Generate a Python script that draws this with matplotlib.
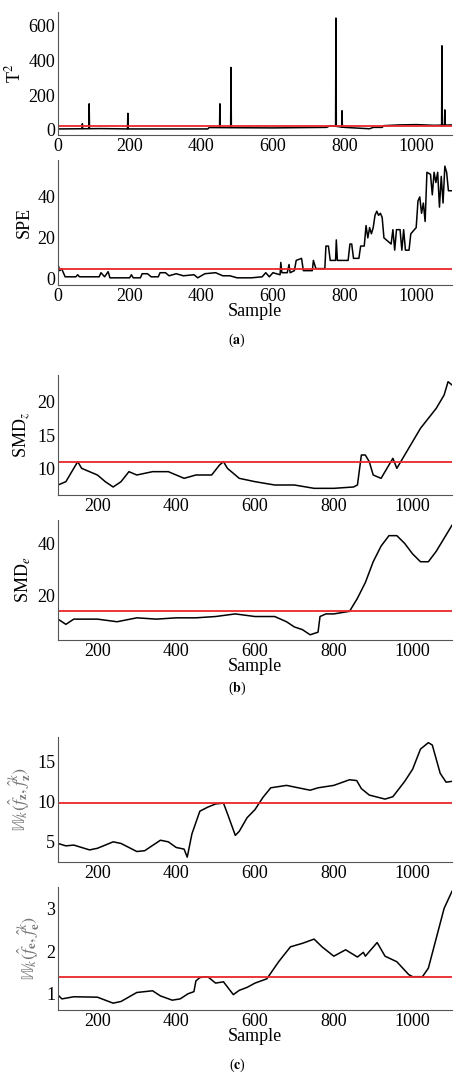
import matplotlib
matplotlib.use("Agg")
import matplotlib.pyplot as plt
import numpy as np

plt.rcParams['font.family'] = ['Liberation Serif', 'DejaVu Serif']
plt.rcParams['mathtext.fontset'] = 'stix'

t2_base_x = [0, 60, 120, 200, 300, 418, 422, 500, 600, 700, 750, 760, 800, 870, 880, 905, 910, 950, 1000, 1050, 1100]
t2_base_y = [5, 6, 7, 5, 5, 5, 13, 12, 11, 13, 14, 24, 14, 6, 14, 14, 24, 28, 30, 26, 28]
t2_spike_x = [68, 87, 195, 452, 483, 776, 793, 1072, 1080]
t2_spike_y = [35, 150, 95, 150, 360, 645, 110, 485, 115]
t2_limit = 20

spe_x = [0, 5, 10, 20, 50, 55, 60, 115, 120, 130, 140, 145, 200, 205, 210, 230, 235, 250, 260, 280, 285, 300, 310, 330, 350, 380, 390, 410, 440, 460, 480, 500, 540, 570, 580, 590, 600, 620, 622, 625, 640, 645, 648, 660, 665, 680, 685, 710, 713, 720, 735, 745, 748, 755, 760, 775, 777, 780, 810, 815, 820, 825, 840, 845, 855, 860, 865, 870, 875, 880, 885, 890, 895, 900, 905, 910, 930, 935, 940, 945, 955, 960, 965, 970, 980, 985, 1000, 1005, 1010, 1015, 1020, 1025, 1030, 1040, 1045, 1050, 1055, 1060, 1065, 1070, 1075, 1080, 1085, 1090, 1100]
spe_y = [7, 4, 5, 1, 1, 2, 1, 1, 3, 1, 3.5, 0.5, 0.5, 2, 0.5, 0.5, 2.5, 2.5, 1, 1, 3, 3, 1.5, 2.5, 1.5, 2, 0.5, 2.5, 3, 1.5, 1.5, 0.5, 0.5, 1, 3, 1, 3, 2, 8, 3, 3, 7, 3, 4, 9, 10, 4, 4, 9, 5, 5, 5, 16, 16, 9, 9, 19, 9, 9, 17, 17, 10, 10, 16, 16, 26, 20, 25, 22, 25, 31, 33, 31, 32, 30, 20, 17, 24, 14, 24, 24, 14, 24, 14, 14, 22, 25, 38, 40, 32, 37, 28, 52, 51, 41, 52, 47, 52, 35, 50, 37, 55, 52, 43, 43]
spe_limit = 4.7

smdz_x = [100, 120, 140, 150, 160, 180, 200, 220, 240, 260, 280, 300, 340, 380, 420, 450, 490, 510, 520, 530, 560, 600, 650, 700, 750, 800, 850, 860, 870, 880, 890, 900, 920, 940, 950, 960, 970, 980, 1000, 1020, 1040, 1060, 1080, 1090, 1100]
smdz_y = [7.5, 8, 10, 11, 10, 9.5, 9, 8, 7.2, 8, 9.5, 9, 9.5, 9.5, 8.5, 9, 9, 10.5, 11, 10, 8.5, 8, 7.5, 7.5, 7, 7, 7.2, 7.5, 12, 12, 11, 9, 8.5, 10.5, 11.5, 10, 11, 12, 14, 16, 17.5, 19, 21, 23, 22.5]
smdz_limit = 11

smde_x = [100, 120, 140, 200, 250, 300, 350, 400, 450, 500, 550, 600, 650, 680, 700, 720, 740, 760, 765, 780, 800, 820, 840, 860, 880, 900, 920, 940, 960, 980, 1000, 1020, 1040, 1060, 1080, 1100]
smde_y = [11, 9, 11, 11, 10, 11.5, 11, 11.5, 11.5, 12, 13, 12, 12, 10, 8, 7, 5, 6, 12, 13, 13, 13.5, 14, 19, 25, 33, 39, 43, 43, 40, 36, 33, 33, 37, 42, 47]
smde_limit = 14

wz_x = [100, 120, 140, 180, 200, 240, 260, 300, 320, 360, 380, 400, 420, 428, 440, 460, 480, 500, 520, 530, 550, 560, 580, 600, 620, 640, 680, 740, 760, 800, 840, 858, 870, 890, 930, 950, 980, 1000, 1020, 1040, 1050, 1070, 1085, 1100]
wz_y = [4.8, 4.5, 4.6, 4.0, 4.2, 5.0, 4.8, 3.8, 3.9, 5.2, 5.0, 4.3, 4.1, 3.1, 6.0, 8.8, 9.3, 9.7, 9.8, 8.5, 5.8, 6.3, 8.0, 9.0, 10.5, 11.7, 12.0, 11.4, 11.7, 12.0, 12.7, 12.6, 11.6, 10.8, 10.3, 10.6, 12.5, 14.0, 16.5, 17.3, 17.0, 13.5, 12.4, 12.5]
wz_limit = 9.8

we_x = [100, 110, 140, 200, 240, 260, 300, 340, 360, 390, 410, 430, 445, 450, 460, 480, 500, 520, 545, 560, 580, 600, 630, 645, 660, 690, 720, 750, 770, 800, 830, 860, 875, 880, 910, 930, 960, 990, 1000, 1025, 1040, 1060, 1080, 1100]
we_y = [0.97, 0.88, 0.93, 0.92, 0.78, 0.82, 1.03, 1.07, 0.95, 0.85, 0.88, 1.0, 1.05, 1.3, 1.38, 1.4, 1.25, 1.28, 0.98, 1.08, 1.15, 1.25, 1.35, 1.55, 1.75, 2.1, 2.18, 2.28, 2.1, 1.88, 2.03, 1.86, 1.97, 1.88, 2.2, 1.88, 1.75, 1.45, 1.4, 1.4, 1.6, 2.3, 3.0, 3.4]
we_limit = 1.4

pts = [(x, y) for x, y in zip(t2_base_x, t2_base_y)]
for sx, sy in zip(t2_spike_x, t2_spike_y):
    b = float(np.interp(sx, t2_base_x, t2_base_y))
    pts += [(sx - 1, b), (sx, sy), (sx + 1, b)]
pts.sort()
t2_x = [p[0] for p in pts]
t2_y = [p[1] for p in pts]

W, H = 474, 1085
fig = plt.figure(figsize=(W / 100, H / 100), dpi=100)

def ax_at(top, bottom, left=58, right=452):
    return fig.add_axes([left / W, 1 - bottom / H, (right - left) / W, (bottom - top) / H])

panels = [
    (12, 135, t2_x, t2_y, t2_limit, 'T$^2$', (0, 1100), (-30, 680), [0, 200, 400, 600], [0, 200, 400, 600, 800, 1000], False, 'black'),
    (160, 285, spe_x, spe_y, spe_limit, 'SPE', (0, 1100), (-3, 58), [0, 20, 40], [0, 200, 400, 600, 800, 1000], True, 'black'),
    (375, 495, smdz_x, smdz_y, smdz_limit, 'SMD$_z$', (100, 1100), (6, 24), [10, 15, 20], [200, 400, 600, 800, 1000], False, 'black'),
    (520, 640, smde_x, smde_y, smde_limit, 'SMD$_e$', (100, 1100), (3, 49), [20, 40], [200, 400, 600, 800, 1000], True, 'black'),
    (737, 862, wz_x, wz_y, wz_limit, r'$\mathbb{W}_k(\hat{f}_{\mathbf{z}},\hat{f}^k_{\mathbf{z}})$', (100, 1100), (2.5, 18), [5, 10, 15], [200, 400, 600, 800, 1000], False, '#777777'),
    (887, 1010, we_x, we_y, we_limit, r'$\mathbb{W}_k(\hat{f}_{\mathbf{e}},\hat{f}^k_{\mathbf{e}})$', (100, 1100), (0.62, 3.5), [1, 2, 3], [200, 400, 600, 800, 1000], True, '#777777'),
]
for top, bot, x, y, lim, lab, xl, yl, yt, xt, samp, lc in panels:
    ax = ax_at(top, bot)
    ax.plot(x, y, color='black', lw=1.1)
    ax.axhline(lim, color='#e8262b', lw=1.3)
    ax.set_xlim(*xl)
    ax.set_ylim(*yl)
    ax.set_yticks(yt)
    ax.set_xticks(xt)
    ax.spines['top'].set_visible(False)
    ax.spines['right'].set_visible(False)
    for s in ('left', 'bottom'):
        ax.spines[s].set_color('#555555')
    ax.tick_params(labelsize=13, length=0, pad=2)
    ax.set_ylabel(lab, fontsize=13, color=lc, labelpad=3)
    if samp:
        ax.set_xlabel('Sample', fontsize=13, labelpad=-1)

fig.text(237 / W, 1 - 340 / H, r'($\mathbf{a}$)', ha='center', va='center', fontsize=10)
fig.text(237 / W, 1 - 688 / H, r'($\mathbf{b}$)', ha='center', va='center', fontsize=10)
fig.text(237 / W, 1 - 1065 / H, r'($\mathbf{c}$)', ha='center', va='center', fontsize=10)

fig.savefig('out.png', dpi=100)
